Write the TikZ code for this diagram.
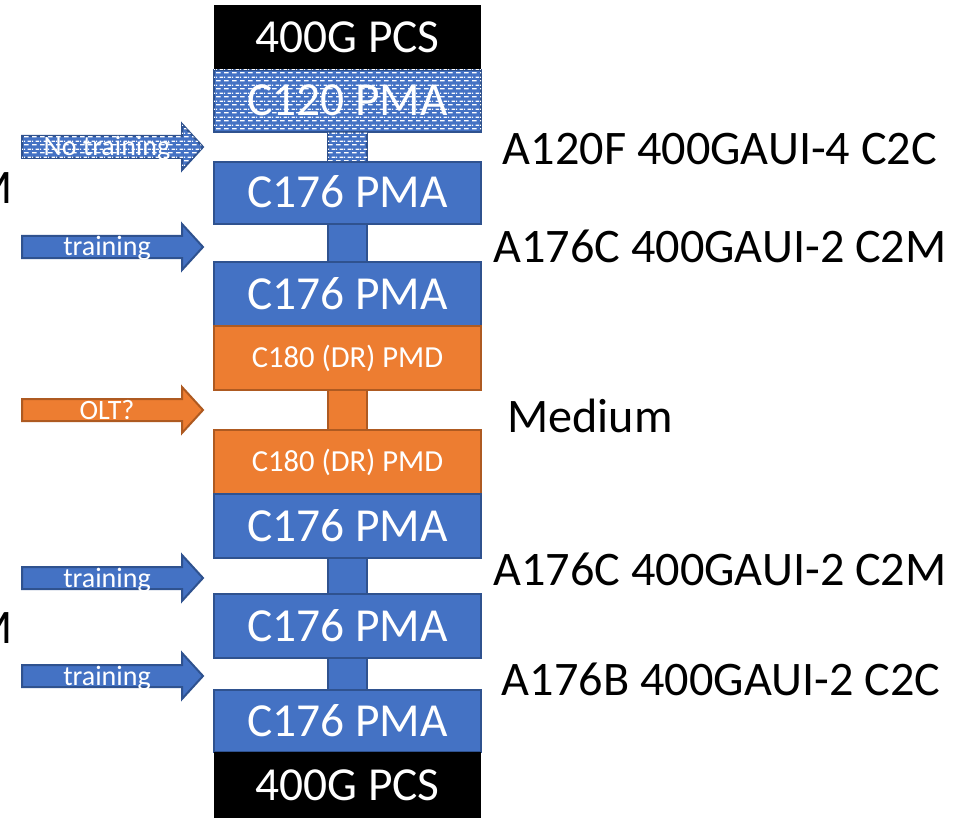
\documentclass[tikz,border=0pt]{standalone}
\usepackage{fontspec}
\setmainfont{Carlito}
\usetikzlibrary{positioning, patterns}
\definecolor{pblue}{RGB}{68,114,196}
\definecolor{pbluedark}{RGB}{47,82,143}
\definecolor{porange}{RGB}{237,125,49}
\definecolor{porangedark}{RGB}{174,90,33}

% white dashes in a brick layout
\pgfdeclarepatternformonly{dashbrick}{\pgfqpoint{0pt}{0pt}}{\pgfqpoint{4pt}{4pt}}{\pgfqpoint{4pt}{4pt}}{%
  \pgfpathrectangle{\pgfqpoint{0pt}{0.3pt}}{\pgfqpoint{2.6pt}{0.7pt}}%
  \pgfpathrectangle{\pgfqpoint{2pt}{2.3pt}}{\pgfqpoint{2pt}{0.7pt}}%
  \pgfpathrectangle{\pgfqpoint{0pt}{2.3pt}}{\pgfqpoint{0.6pt}{0.7pt}}%
  \pgfusepath{fill}}

\tikzset{
  layer/.style={draw=pbluedark, fill=pblue, line width=1pt, outer sep=0pt,
    inner sep=0pt, minimum width=133.5pt, minimum height=#1, text=white,
    font=\fontsize{23.7}{28}\selectfont, text height=15pt, text depth=0pt},
  pcs/.style={layer=#1, draw=none, fill=black},
  hatched/.style={postaction={pattern=dashbrick, pattern color=white}},
  pmd/.style={layer=#1, draw=porangedark, fill=porange,
    font=\fontsize{15.3}{18}\selectfont, text height=9.7pt},
  stub/.style={draw=pbluedark, fill=pblue, line width=1pt, outer sep=0pt,
    inner sep=0pt, minimum width=19.5pt, minimum height=#1},
  ostub/.style={stub=#1, draw=porangedark, fill=porange},
  barrow/.style={draw=pbluedark, fill=pblue, line width=1pt},
  harrow/.style={barrow, hatched},
  oarrow/.style={draw=porangedark, fill=porange, line width=1pt},
  atext/.style={text=white, font=\fontsize{14}{17}\selectfont, inner sep=0pt, anchor=base},
  rlbl/.style={font=\fontsize{24.1}{29}\selectfont, inner sep=0pt, text height=15.3pt, text depth=0pt}
}

\begin{document}
\begin{tikzpicture}[x=0.5pt, y=-0.5pt]
  \useasboundingbox (0,0) rectangle (968,818);
  % Layer stack
  \node[pcs=32.5pt] (pcsT) at (347.5,37.5) {400G PCS};
  \node[layer=31pt, hatched, below=0pt of pcsT] (pmaT) {C120 PMA};
  \node[stub=15pt, hatched, below=0pt of pmaT] (stubA) {};
  \node[layer=31pt, below=0pt of stubA] (pmaA) {C176 PMA};
  \node[stub=19pt, below=0pt of pmaA] (stubB) {};
  \node[layer=32pt, below=0pt of stubB] (pmaB) {C176 PMA};
  \node[pmd=32pt, below=0pt of pmaB] (pmdA) {C180 (DR) PMD};
  \node[ostub=20pt, below=0pt of pmdA] (stubC) {};
  \node[pmd=32pt, below=0pt of stubC] (pmdB) {C180 (DR) PMD};
  \node[layer=32pt, below=0pt of pmdB] (pmaC) {C176 PMA};
  \node[stub=18pt, below=0pt of pmaC] (stubD) {};
  \node[layer=32pt, below=0pt of stubD] (pmaD) {C176 PMA};
  \node[stub=16pt, below=0pt of pmaD] (stubE) {};
  \node[layer=31pt, below=0pt of stubE] (pmaE) {C176 PMA};
  \node[pcs=33pt, below=0pt of pmaE] (pcsB) {400G PCS};
  % Block arrows
  \foreach \y/\s/\t [count=\i] in {147/harrow/No training, 247/barrow/training,
      410/oarrow/OLT?, 578/barrow/training, 676/barrow/training} {
    \draw[\s] (22,\y-11) -- (182,\y-11) -- (182,\y-23) -- (203,\y)
      -- (182,\y+23) -- (182,\y+11) -- (22,\y+11) -- cycle;
    \node[atext] (tag\i) at (107,\y+9) {\t};
  }
  % Interface labels
  \node[rlbl] (ifA) at (720,149) {A120F 400GAUI-4 C2C};
  \node[rlbl] (ifB) at (720,247) {A176C 400GAUI-2 C2M};
  \node[rlbl, anchor=west] (medium) at (507,417) {Medium};
  \node[rlbl] (ifC) at (720,570) {A176C 400GAUI-2 C2M};
  \node[rlbl] (ifD) at (721,680) {A176B 400GAUI-2 C2C};
  \node[rlbl, anchor=east] (cutA) at (13,188.5) {M};
  \node[rlbl, anchor=east] (cutB) at (13,628) {M};
\end{tikzpicture}
\end{document}
